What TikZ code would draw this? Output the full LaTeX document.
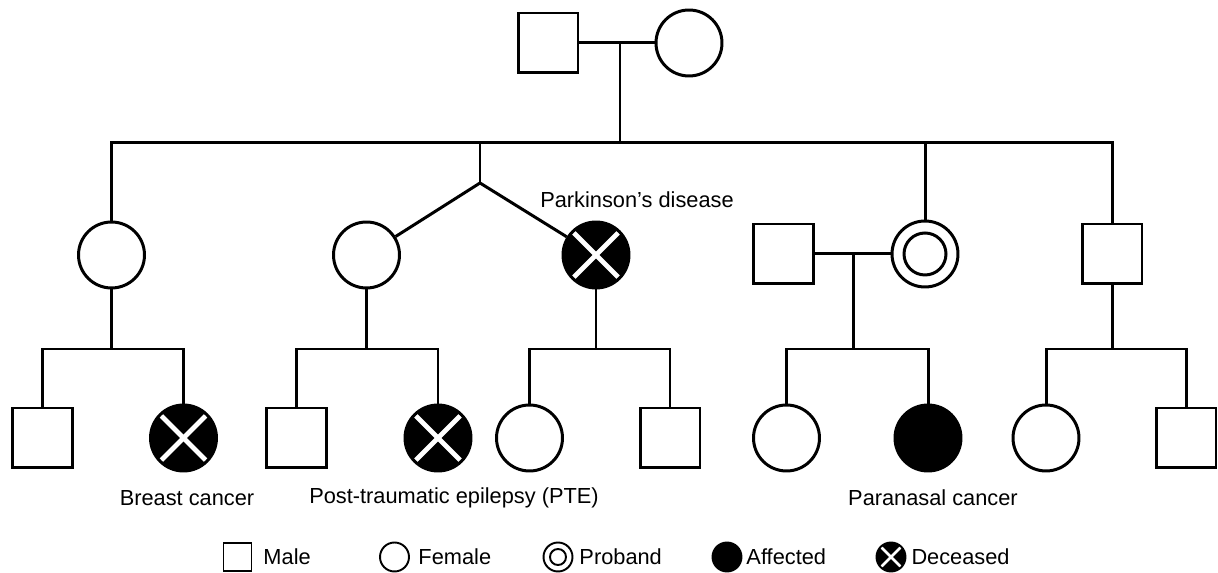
\documentclass[tikz,border=0pt]{standalone}
\usepackage{fontspec}
\setmainfont{Liberation Sans}
\begin{document}
\begin{tikzpicture}[x=0.02cm,y=-0.02cm,
  line width=1.7pt,
  ind/.style={draw=black, line width=1.7pt, inner sep=0pt, fill=white},
  male/.style={ind, rectangle, minimum size=1.2cm},
  female/.style={ind, circle, minimum size=1.32cm},
  proband/.style={female, path picture={\draw[line width=1.7pt] (path picture bounding box.center) circle (0.42cm);}},
  affected/.style={female, fill=black},
  deceased/.style={female, fill=black, path picture={
    \draw[white, line width=2.8pt] ([shift={(-0.45cm,-0.45cm)}]path picture bounding box.center) -- ([shift={(0.45cm,0.45cm)}]path picture bounding box.center);
    \draw[white, line width=2.8pt] ([shift={(-0.45cm,0.45cm)}]path picture bounding box.center) -- ([shift={(0.45cm,-0.45cm)}]path picture bounding box.center);}},
  lbl/.style={font=\fontsize{12.4}{14}\selectfont, inner sep=0pt},
  lind/.style={draw=black, line width=1.1pt, inner sep=0pt, fill=white},
  lmale/.style={lind, rectangle, minimum size=0.56cm},
  lfemale/.style={lind, circle, minimum size=0.58cm},
  lproband/.style={lfemale, path picture={\draw[line width=1.1pt] (path picture bounding box.center) circle (0.16cm);}},
  laffected/.style={lfemale, fill=black},
  ldeceased/.style={lfemale, fill=black, path picture={
    \draw[white, line width=1.6pt] ([shift={(-0.21cm,-0.21cm)}]path picture bounding box.center) -- ([shift={(0.21cm,0.21cm)}]path picture bounding box.center);
    \draw[white, line width=1.6pt] ([shift={(-0.21cm,0.21cm)}]path picture bounding box.center) -- ([shift={(0.21cm,-0.21cm)}]path picture bounding box.center);}},
  ltext/.style={lbl, anchor=west}
]
\useasboundingbox (0,0) rectangle (1218,573);

% generation I
\node[male] (gf) at (548,43) {};
\node[female] (gm) at (689,43) {};
\coordinate (m1) at (620,43);
\coordinate (s1) at (620,143);

% generation II
\node[female] (a) at (111.5,255) {};
\node[female] (b) at (366.5,255) {};
\node[deceased] (c) at (596,255) {};
\node[male] (sp) at (783.5,254) {};
\node[proband] (p) at (925,254) {};
\node[male] (d) at (1112,254) {};
\coordinate (apex) at (480,183);
\coordinate (m2) at (853,254);

% generation III
\node[male] (a1) at (42.5,438) {};
\node[deceased] (a2) at (183.5,438) {};
\node[male] (b1) at (296.5,438) {};
\node[deceased] (b2) at (438,438) {};
\node[female] (c1) at (529.5,438) {};
\node[male] (c2) at (670,438) {};
\node[female] (p1) at (786.5,438) {};
\node[affected] (p2) at (928,438) {};
\node[female] (d1) at (1046,438) {};
\node[male] (d2) at (1186,438) {};

\coordinate (sa) at (111.5,349);
\coordinate (sb) at (366.5,349);
\coordinate (sc) at (596,349);
\coordinate (sp2) at (853,349);
\coordinate (sd) at (1112,349);

% connectors generation I -> II
\draw (gf.east) -- (gm.west);
\draw (m1) -- (s1);
\draw (a.north) |- (s1);
\draw (apex) |- (s1);
\draw (p.north) |- (s1);
\draw (d.north) |- (s1);
\draw (b) -- (apex) -- (c);

% connectors generation II -> III
\draw (sp.east) -- (p.west);
\draw (a.south) -- (sa);
\draw (a1.north) |- (sa);
\draw (a2.north) |- (sa);
\draw (b.south) -- (sb);
\draw (b1.north) |- (sb);
\draw (b2.north) |- (sb);
\draw (c.south) -- (sc);
\draw (c1.north) |- (sc);
\draw (c2.north) |- (sc);
\draw (m2) -- (sp2);
\draw (p1.north) |- (sp2);
\draw (p2.north) |- (sp2);
\draw (d.south) -- (sd);
\draw (d1.north) |- (sd);
\draw (d2.north) |- (sd);

% labels
\node[lbl] (lpd) at (637,200) {Parkinson’s disease};
\node[lbl] (lbc) at (187,498) {Breast cancer};
\node[lbl] (lpte) at (454,498) {Post-traumatic epilepsy (PTE)};
\node[lbl] (lpc) at (933,498) {Paranasal cancer};

% legend
\node[lmale] (k1) at (237.5,557) {};
\node[ltext] (t1) at (262,557) {Male};
\node[lfemale] (k2) at (394.5,557) {};
\node[ltext] (t2) at (417,557) {Female};
\node[lproband] (k3) at (558,557) {};
\node[ltext] (t3) at (578,557) {Proband};
\node[laffected] (k4) at (727,557) {};
\node[ltext] (t4) at (745,557) {Affected};
\node[ldeceased] (k5) at (891,557) {};
\node[ltext] (t5) at (910,557) {Deceased};
\end{tikzpicture}
\end{document}
